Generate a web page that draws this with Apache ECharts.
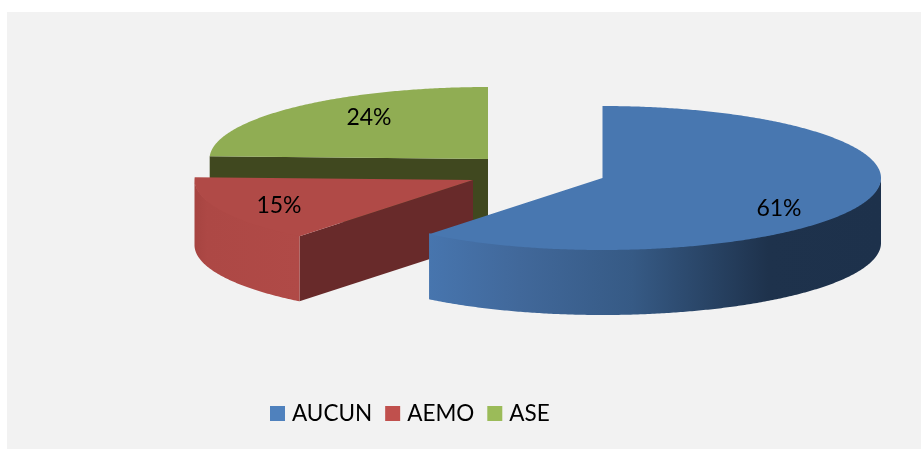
<!DOCTYPE html>
<html>
<head>
<meta charset="utf-8">
<style>html,body{margin:0;padding:0;background:#fff}#c{width:921px;height:449px}</style>
<script src="https://cdn.jsdelivr.net/npm/echarts@6/dist/echarts.min.js"></script>
</head>
<body>
<div id="c"></div>
<script>
// Data (labels are these shares, rounded)
const categories = ['AUCUN', 'AEMO', 'ASE'];
const values = [60.7, 14.9, 24.4];

// Layout and styling of the tilted, exploded pie
const radiusX = 278.5, radiusY = 72, depth = 65;
const apexes = [[602.5, 178], [473, 180], [488, 159]];
const labelOffsets = [[176.5, 31], [-194, 26], [-119, -41]];
const sliceZ = [4, 3, 2];
const topColors = ['#4877b0', '#b04a47', '#90ad53'];
const legendColors = ['#4f81bd', '#c0504d', '#9bbb59'];
const cutColors = ['#1d314b', '#682a2a', '#40481f'];
const wallStops = [
  [[0, '#4775ae'], [0.2, '#41689a'], [0.45, '#365a85'], [0.75, '#1e324c'], [1, '#1d314b']],
  [[0, '#a64441'], [0.12, '#ad4845'], [1, '#b04a47']],
  [[0, '#90ad53'], [1, '#90ad53']]
];

const total = values.reduce((a, b) => a + b, 0);
function startDeg(i) {
  return values.slice(0, i).reduce((a, b) => a + b, 0) / total * 360;
}
function rim(apex, deg, drop) {
  const t = deg * Math.PI / 180;
  return [apex[0] + radiusX * Math.sin(t), apex[1] - radiusY * Math.cos(t) + drop];
}
function arc(apex, from, to, drop) {
  const pts = [];
  const n = Math.max(2, Math.ceil(Math.abs(to - from) * 2));
  for (let k = 0; k <= n; k++) pts.push(rim(apex, from + (to - from) * k / n, drop));
  return pts;
}
function cutFace(apex, deg, color) {
  const p = rim(apex, deg, 0), q = rim(apex, deg, depth);
  return {
    type: 'polygon',
    shape: { points: [apex, p, q, [apex[0], apex[1] + depth]] },
    style: { fill: color }
  };
}
function renderSlice(i) {
  return function (params, api) {
    const share = api.value(0);
    const from = startDeg(i), to = from + share / total * 360;
    const apex = apexes[i];
    const children = [];
    // visible straight cut faces
    if (Math.sin(from * Math.PI / 180) < -0.001) children.push(cutFace(apex, from, cutColors[i]));
    if (Math.sin(to * Math.PI / 180) > 0.001) children.push(cutFace(apex, to, cutColors[i]));
    // outer wall: only the front half of the rim faces the viewer (tucked 1px under the top face)
    const a = Math.max(from, 90), b = Math.min(to, 270);
    if (b > a) {
      children.push({
        type: 'polygon',
        shape: { points: arc(apex, a, b, -1).concat(arc(apex, b, a, depth)) },
        style: {
          fill: new echarts.graphic.LinearGradient(0, 0, 1, 0,
            wallStops[i].map(s => ({ offset: s[0], color: s[1] })))
        }
      });
    }
    // top face
    children.push({
      type: 'polygon',
      shape: { points: [apex].concat(arc(apex, from, to, 0)) },
      style: { fill: topColors[i] }
    });
    // percentage label
    children.push({
      type: 'text',
      style: {
        x: apex[0] + labelOffsets[i][0],
        y: apex[1] + labelOffsets[i][1],
        text: Math.round(share / total * 100) + '%',
        font: '23px Lato',
        fill: '#000',
        align: 'center',
        verticalAlign: 'middle'
      }
    });
    return { type: 'group', children };
  };
}

const chart = echarts.init(document.getElementById('c'), null, { renderer: 'canvas' });
chart.setOption({
  animation: false,
  backgroundColor: '#fff',
  graphic: [{
    type: 'rect', z: -1, silent: true,
    shape: { x: 7, y: 12, width: 914, height: 437 },
    style: { fill: '#f2f2f2' }
  }],
  legend: {
    left: 270, top: 402, padding: 0,
    icon: 'rect', itemWidth: 15, itemHeight: 15, itemGap: 13,
    selectedMode: false,
    data: categories,
    textStyle: { fontFamily: 'Lato', fontSize: 22.5, color: '#000', padding: [0, 0, 0, 2] }
  },
  series: categories.map((name, i) => ({
    type: 'custom',
    name,
    coordinateSystem: 'none',
    silent: true,
    z: sliceZ[i],
    itemStyle: { color: legendColors[i] },
    data: [{ name, value: [values[i]] }],
    renderItem: renderSlice(i)
  }))
});
</script>
</body>
</html>
